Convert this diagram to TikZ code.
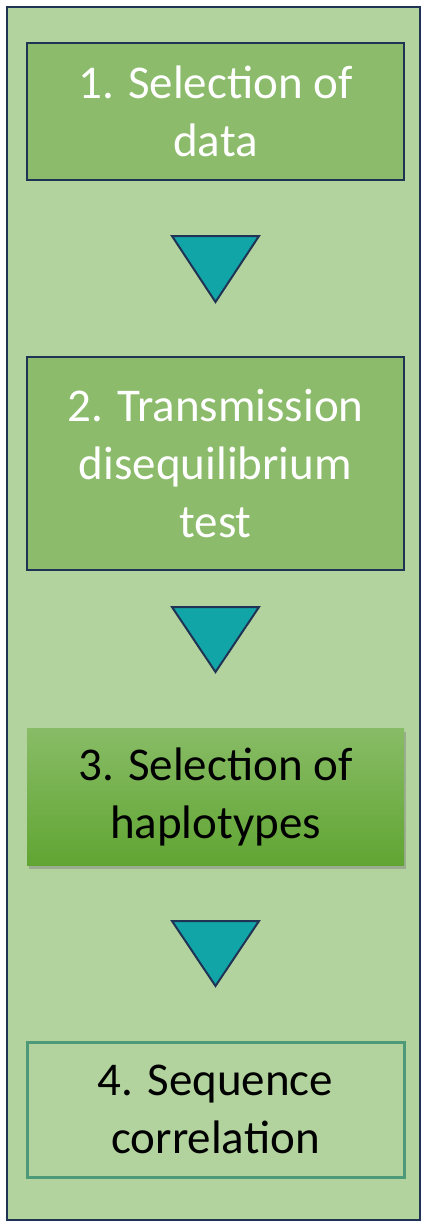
\documentclass[tikz,border=0pt]{standalone}
\usepackage{fontspec}
\setmainfont{Carlito}
\usetikzlibrary{shadows}
\definecolor{outerfill}{HTML}{B2D39E}
\definecolor{navy}{HTML}{1F3354}
\definecolor{boxgreen}{HTML}{8BBB6B}
\definecolor{teal}{HTML}{12A5A8}
\definecolor{gtop}{HTML}{88BC66}
\definecolor{gbot}{HTML}{61A533}
\definecolor{b4border}{HTML}{4E9A78}
\tikzset{
  stepbox/.style={minimum width=377pt, align=center, inner sep=0pt,
    font=\fontsize{47}{58}\selectfont},
  darkbox/.style={stepbox, fill=boxgreen, draw=navy, line width=2.5pt, text=white},
  arrowtri/.style={fill=teal, draw=navy, line width=2pt, line join=miter}
}
\begin{document}
\begin{tikzpicture}[x=1pt,y=-1pt]
\useasboundingbox (0,0) rectangle (424,1225);
\fill[white] (0,0) rectangle (424,1225);
\draw[fill=outerfill, draw=navy, line width=2pt] (7,7) rectangle (420,1220);
\node[darkbox, minimum height=137pt] (b1) at (215.5,111.5) {1. Selection of\\data};
\node[darkbox, minimum height=213pt] (b2) at (215.5,463.5) {2. Transmission\\disequilibrium\\test};
\node[stepbox, minimum height=137pt, top color=gtop, bottom color=gbot,
  drop shadow={shadow xshift=2pt, shadow yshift=-4pt, opacity=0.45}, text=black] (b3) at (215.5,796.5) {3. Selection of\\haplotypes};
\node[stepbox, minimum height=135pt, draw=b4border, line width=3pt, text=black] (b4) at (215.5,1109.5) {4. Sequence\\correlation};
\draw[arrowtri] (172,236) -- (259,236) -- (215.5,302) -- cycle;
\draw[arrowtri] (172,607) -- (259,607) -- (215.5,672) -- cycle;
\draw[arrowtri] (172,921) -- (259,921) -- (215.5,986) -- cycle;
\end{tikzpicture}
\end{document}
